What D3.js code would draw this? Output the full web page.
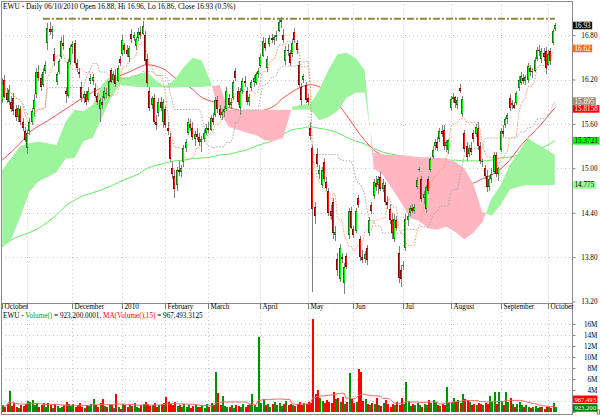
<!DOCTYPE html>
<html><head><meta charset="utf-8">
<script src="https://cdn.jsdelivr.net/npm/d3@7/dist/d3.min.js"></script>
<style>
html,body{margin:0;padding:0;background:#fff;}
svg{display:block;}
text{font-family:"Liberation Serif","Times New Roman",serif;font-size:7.2px;}
</style></head><body>
<svg id="chart" width="600" height="416"></svg>
<script>
// ---------------- DATA ----------------
const opens = [15.92,16.19,16.02,15.90,15.90,15.95,15.80,15.70,15.80,15.62,
15.50,15.28,15.50,15.62,15.80,16.00,16.30,16.22,16.12,16.32,
16.69,16.88,16.84,16.55,16.17,16.30,16.50,16.70,16.05,15.98,
16.44,16.64,16.70,16.42,16.30,16.10,15.95,16.00,15.92,16.18,
16.18,16.08,15.98,15.80,15.90,15.95,16.02,15.98,16.33,16.20,
16.26,16.18,16.48,16.55,16.66,16.60,16.50,16.82,16.76,16.65,
16.76,16.84,16.82,16.80,16.48,16.05,15.85,15.95,15.62,15.75,
15.90,15.62,15.80,15.55,15.42,15.00,14.90,14.78,14.98,14.95,
15.08,15.28,15.48,15.60,15.55,15.40,15.46,15.42,15.35,15.40,
15.48,15.55,15.52,15.68,15.72,15.92,15.80,15.72,15.76,15.80,
15.95,15.86,15.95,16.32,16.05,15.82,16.05,16.18,16.05,15.90,
16.08,16.16,16.15,16.27,16.38,16.52,16.70,16.35,16.68,16.76,
16.74,16.78,16.86,16.98,16.80,16.45,16.60,16.56,16.55,16.84,
16.70,16.40,16.10,16.20,16.12,15.95,15.55,15.27,14.48,15.20,
14.92,14.78,15.08,14.82,14.70,14.42,14.55,14.10,13.78,13.50,
13.80,13.45,13.82,14.10,14.42,14.18,14.15,14.60,14.05,13.80,
13.78,13.92,14.12,14.50,14.62,14.80,14.78,14.88,14.72,14.78,
14.55,14.45,14.30,14.05,14.30,13.85,13.62,13.68,13.92,14.30,
14.40,14.46,14.42,14.75,14.98,14.85,14.60,14.45,14.85,14.98,
15.15,15.30,15.36,15.40,15.50,15.52,15.30,15.25,15.82,15.94,
15.96,15.85,16.08,15.74,15.48,15.30,15.20,15.28,15.48,15.46,
15.55,15.30,15.08,15.00,14.90,14.75,14.85,14.95,15.18,14.92,
15.25,15.50,15.58,15.66,15.95,15.85,15.85,15.88,16.08,16.15,
16.22,16.18,16.20,16.36,16.30,16.32,16.48,16.60,16.48,16.56,
16.58,16.40,16.58,16.70,16.88];
const highs = [16.22,16.26,16.08,16.12,15.98,16.02,15.86,15.85,15.84,15.68,
15.56,15.52,15.68,15.82,16.00,16.35,16.40,16.28,16.35,16.45,
16.97,16.98,16.92,16.62,16.30,16.48,16.78,16.80,16.10,16.48,
16.66,16.72,16.74,16.48,16.36,16.16,16.05,16.05,16.10,16.28,
16.28,16.14,16.02,15.95,15.98,16.10,16.08,16.20,16.36,16.32,
16.34,16.40,16.52,16.80,16.70,16.66,16.65,16.88,16.84,16.78,
16.90,16.92,16.99,16.85,16.55,16.10,15.98,16.00,15.72,15.95,
15.96,15.94,15.84,15.62,15.48,15.08,14.98,15.02,15.10,15.05,
15.32,15.40,15.68,15.66,15.62,15.50,15.55,15.48,15.44,15.52,
15.60,15.62,15.72,15.75,15.96,15.98,15.85,15.80,15.84,16.10,
16.00,15.95,16.20,16.36,16.10,16.08,16.22,16.25,16.10,16.00,
16.20,16.26,16.30,16.35,16.55,16.78,16.76,16.52,16.80,16.82,
16.80,16.86,17.02,17.04,16.88,16.65,16.68,16.60,16.75,16.90,
16.74,16.45,16.15,16.28,16.16,16.00,15.62,15.32,14.55,15.28,
15.04,15.02,15.14,14.88,14.74,14.50,14.60,14.22,13.86,13.98,
13.86,13.72,13.86,14.46,14.48,14.22,14.46,14.64,14.08,13.90,
13.88,13.96,14.34,14.55,14.86,14.90,14.90,14.95,14.85,14.82,
14.62,14.52,14.40,14.38,14.35,13.95,13.70,13.75,14.38,14.40,
14.50,14.52,14.52,14.88,15.02,14.90,14.70,14.78,14.90,15.15,
15.30,15.40,15.42,15.55,15.58,15.58,15.38,15.40,15.98,16.02,
15.98,15.96,16.14,15.98,15.52,15.36,15.32,15.35,15.52,15.60,
15.62,15.35,15.12,15.05,14.98,14.90,15.00,15.22,15.22,15.02,
15.55,15.58,15.70,15.75,16.00,15.92,15.90,16.05,16.25,16.30,
16.28,16.26,16.42,16.40,16.36,16.50,16.64,16.66,16.62,16.62,
16.64,16.60,16.62,16.88,16.96];
const lows = [15.88,15.95,15.88,15.85,15.76,15.72,15.64,15.62,15.58,15.50,
15.35,15.20,15.45,15.58,15.70,15.95,16.18,16.05,16.10,16.28,
16.60,16.80,16.75,16.38,16.12,16.28,16.48,16.60,15.88,15.95,
16.40,16.55,16.40,16.30,16.22,15.90,15.88,15.85,15.90,16.14,
16.12,15.95,15.85,15.62,15.80,15.92,15.95,15.96,16.15,16.15,
16.10,16.16,16.38,16.52,16.55,16.50,16.44,16.70,16.72,16.60,
16.72,16.75,16.80,16.40,16.10,15.78,15.80,15.60,15.52,15.70,
15.78,15.55,15.55,15.45,15.08,14.85,14.60,14.70,14.90,14.88,
15.02,15.22,15.45,15.50,15.38,15.30,15.38,15.30,15.22,15.36,
15.45,15.48,15.50,15.58,15.70,15.75,15.68,15.65,15.70,15.78,
15.82,15.80,15.92,16.18,15.86,15.72,16.00,16.10,15.85,15.84,
16.04,16.10,16.12,16.22,16.35,16.50,16.58,16.30,16.64,16.70,
16.66,16.72,16.84,16.90,16.70,16.40,16.52,16.38,16.50,16.70,
16.55,16.10,15.85,16.15,15.88,15.85,15.38,13.33,14.25,15.02,
14.86,14.74,14.82,14.70,14.35,14.30,14.05,14.02,13.55,13.46,
13.72,13.30,13.64,14.05,14.18,14.06,14.12,14.46,13.75,13.72,
13.72,13.70,14.08,14.38,14.58,14.70,14.65,14.70,14.68,14.50,
14.45,14.25,14.05,14.00,14.15,13.45,13.40,13.62,13.88,14.22,
14.36,14.40,14.38,14.72,14.95,14.55,14.52,14.40,14.65,14.95,
15.12,15.25,15.24,15.36,15.42,15.25,15.22,15.20,15.78,15.88,
15.82,15.80,16.02,15.70,15.22,15.10,15.15,15.18,15.36,15.42,
15.25,15.06,15.02,14.85,14.68,14.70,14.80,14.92,14.88,14.83,
15.22,15.42,15.55,15.60,15.78,15.80,15.80,15.86,16.05,16.12,
16.14,16.12,16.15,16.25,16.22,16.30,16.45,16.52,16.42,16.45,
16.28,16.38,16.40,16.66,16.86];
const closes = [16.15,15.96,15.92,16.06,15.80,15.78,15.70,15.82,15.62,15.55,
15.38,15.48,15.62,15.78,15.92,16.30,16.22,16.10,16.30,16.40,
16.90,16.84,16.88,16.45,16.27,16.45,16.72,16.65,16.00,16.44,
16.62,16.68,16.42,16.35,16.27,15.95,16.00,15.90,16.05,16.22,
16.24,15.98,15.90,15.92,15.85,16.04,16.00,16.18,16.17,16.28,
16.14,16.36,16.42,16.74,16.60,16.55,16.62,16.75,16.80,16.75,
16.84,16.80,16.92,16.45,16.15,15.82,15.95,15.63,15.58,15.90,
15.82,15.90,15.58,15.50,15.12,14.92,14.72,14.98,14.95,15.00,
15.28,15.36,15.62,15.55,15.42,15.46,15.42,15.35,15.40,15.48,
15.55,15.52,15.68,15.62,15.92,15.80,15.72,15.76,15.80,16.05,
15.86,15.90,16.16,16.22,15.90,16.04,16.18,16.15,15.90,15.96,
16.16,16.22,16.27,16.32,16.50,16.72,16.62,16.48,16.76,16.74,
16.78,16.80,16.98,17.00,16.74,16.60,16.58,16.42,16.70,16.74,
16.60,16.12,15.92,16.25,15.92,15.90,15.43,14.45,14.35,15.06,
14.98,14.98,14.86,14.74,14.40,14.36,14.12,14.14,13.62,13.92,
13.78,13.66,13.67,14.42,14.20,14.10,14.42,14.50,13.80,13.76,
13.84,13.76,14.30,14.42,14.82,14.75,14.85,14.72,14.80,14.55,
14.50,14.30,14.12,14.32,14.20,13.52,13.50,13.70,14.32,14.35,
14.46,14.42,14.48,14.84,14.99,14.58,14.65,14.75,14.70,15.12,
15.25,15.36,15.28,15.50,15.46,15.30,15.35,15.38,15.94,15.96,
15.88,15.92,16.04,15.94,15.26,15.15,15.28,15.22,15.40,15.56,
15.30,15.10,15.10,14.90,14.75,14.85,14.92,15.18,14.92,15.00,
15.50,15.46,15.66,15.72,15.82,15.88,15.82,16.02,16.20,16.25,
16.18,16.24,16.38,16.30,16.32,16.46,16.60,16.58,16.58,16.50,
16.35,16.55,16.45,16.85,16.93];
// volume, millions of shares
const volumes = [1.2,0.9,1.5,3.8,1.1,1.6,1.0,0.8,1.3,1.1,
1.4,2.0,1.8,2.1,1.2,1.5,1.0,1.3,1.7,0.9,
1.6,1.2,0.8,1.4,1.1,0.7,1.0,1.3,1.8,1.5,
1.1,1.4,0.9,1.2,1.6,1.0,0.8,1.3,1.1,1.5,
2.3,1.2,1.0,1.6,2.3,1.1,0.9,1.4,1.2,0.8,
3.3,1.0,0.6,1.5,1.2,0.9,1.3,1.1,1.6,1.0,
0.8,1.2,1.4,1.9,1.5,1.1,1.3,1.7,1.0,1.2,
1.4,1.6,2.8,1.8,1.5,1.3,1.9,1.1,1.2,0.9,
1.4,1.0,1.2,0.8,1.1,1.3,0.9,1.0,1.2,0.8,
1.5,1.0,1.7,1.2,7.3,3.5,1.2,2.9,1.1,0.9,
1.0,1.2,0.8,1.3,1.1,0.9,1.4,1.0,1.2,1.5,
3.2,1.2,1.0,13.7,1.6,2.3,1.2,1.4,1.0,1.5,
1.8,1.3,1.6,1.1,1.4,2.0,1.2,1.5,1.3,1.1,
1.4,1.8,1.2,1.6,1.4,1.9,1.7,16.9,3.3,4.0,
2.6,2.0,1.7,2.2,1.9,1.6,3.6,2.4,2.5,1.8,
2.7,1.5,1.9,7.1,2.3,1.6,1.8,7.9,7.3,2.0,
2.3,1.5,1.2,1.7,1.4,2.5,1.3,1.1,1.6,2.2,
1.4,1.0,1.5,1.2,1.8,1.3,2.6,1.4,5.5,2.0,
1.1,1.5,1.2,1.7,1.3,1.0,1.4,1.2,2.2,1.6,
2.2,1.8,1.3,1.1,1.5,1.2,4.5,1.6,1.8,2.5,
1.9,2.2,1.7,3.3,2.4,2.1,1.8,1.3,1.5,1.2,
1.6,1.4,1.3,1.7,1.5,3.0,1.8,3.6,1.4,3.6,
2.0,1.3,3.6,1.8,2.5,1.5,1.0,1.4,1.9,1.3,
0.9,1.2,1.0,0.8,1.0,1.1,0.7,0.9,1.0,0.6,
0.9,1.0,0.7892,1.7,0.9232];
// indicator lines sampled every 4th bar (bars 0,4,...,244)
const sampleStep = 4;
const sma50 = [15.11,15.22,15.34,15.48,15.57,15.64,15.72,15.80,15.88,15.96,16.03,16.09,16.18,16.25,16.30,16.36,16.40,16.38,16.33,16.23,16.15,16.07,15.96,15.91,15.87,15.82,15.79,15.77,15.77,15.79,15.84,15.95,16.03,16.10,16.13,16.10,16.02,15.88,15.72,15.54,15.38,15.25,15.17,15.09,15.03,14.98,14.92,14.88,14.86,14.83,14.80,14.79,14.80,14.86,14.91,14.99,15.11,15.27,15.41,15.53,15.67,15.8158];
const sma200 = [13.94,14.03,14.09,14.13,14.19,14.27,14.37,14.49,14.57,14.63,14.67,14.71,14.76,14.82,14.87,14.92,15.00,15.04,15.07,15.10,15.11,15.13,15.14,15.15,15.18,15.19,15.22,15.25,15.30,15.34,15.38,15.46,15.52,15.54,15.56,15.54,15.52,15.48,15.42,15.37,15.33,15.27,15.22,15.19,15.17,15.15,15.14,15.13,15.13,15.11,15.11,15.10,15.10,15.10,15.11,15.14,15.15,15.18,15.22,15.26,15.30,15.3721];
const spanA = [14.98,15.14,15.30,15.34,15.36,15.34,15.31,15.63,15.79,15.77,15.86,16.13,16.25,16.23,16.23,16.27,16.30,16.18,16.11,16.19,16.36,16.49,16.46,16.17,15.76,15.56,15.52,15.48,15.45,15.38,15.37,15.41,15.83,15.86,15.87,16.06,16.33,16.54,16.56,16.49,16.33,15.00,14.91,14.73,14.54,14.33,14.29,14.19,14.17,14.21,14.14,14.04,14.13,14.27,14.59,14.77,15.04,15.22,15.41,15.33,15.26,15.18];
const spanB = [13.94,14.04,14.34,14.68,14.82,14.88,14.95,15.13,15.14,15.37,15.41,15.68,15.95,16.13,16.11,16.10,16.10,16.10,16.09,16.09,16.10,16.10,16.10,16.11,16.13,15.79,15.79,15.79,15.79,15.79,15.79,15.79,15.79,15.79,15.79,15.65,15.69,15.77,15.95,16.02,16.02,15.21,15.19,15.18,15.18,15.17,15.15,15.15,15.14,15.14,15.09,15.00,14.79,14.41,14.36,14.50,14.71,14.75,14.775,14.775,14.775,14.775];
const resistanceLevel = 17.02, resistanceFrom = 18;
const priceTicks = [13.2,13.8,14.4,15.0,15.6,16.2,16.8];
const volTicks = [0,2,4,6,8,10,12,14,16];
const monthIdx = [0,11,31,53,72,91,114,135,155,177,198,220,241];
const monthLabels = ["October","November","December","2010","February","March","April","May","Jun","Jul","August","September","October"];
const titleText = "EWU - Daily 06/10/2010 Open 16.88, Hi 16.96, Lo 16.86, Close 16.93 (0.5%)";
const legendParts = [["EWU - ","#000"],["Volume()","#00a000"],[" = 923,200.0001, ","#000"],["MA(Volume(),15)","#ff0000"],[" = 967,493.3125","#000"]];

// ---------------- LAYOUT ----------------
const svg = d3.select("#chart");
const N = closes.length;
const L = 1, R = 572, PT = 1, PB = 303, VT = 312, VB = 415;
const x = d3.scaleLinear().domain([0, N - 1]).range([2.13, 554.9]);
const y = d3.scaleLinear().domain([13.2, 16.8]).range([301.5, 35.1]);
const yv = d3.scaleLinear().domain([0, 16]).range([412, 324]);
const px = i => Math.round(x(i));

const defs = svg.append("defs");
defs.append("clipPath").attr("id","clipP").append("rect").attr("x",L).attr("y",PT).attr("width",R-L).attr("height",PB-PT);
defs.append("clipPath").attr("id","clipV").append("rect").attr("x",L).attr("y",VT).attr("width",R-L).attr("height",VB-VT);

// grid
const grid = svg.append("g").attr("stroke","#c8c8c8").attr("stroke-dasharray","1,3").attr("shape-rendering","crispEdges");
priceTicks.slice(1).forEach(t => grid.append("line").attr("x1",L).attr("x2",R).attr("y1",Math.round(y(t))+0.5).attr("y2",Math.round(y(t))+0.5));
volTicks.slice(1).forEach(t => grid.append("line").attr("x1",L).attr("x2",R).attr("y1",Math.round(yv(t))+0.5).attr("y2",Math.round(yv(t))+0.5));
monthIdx.slice(1).forEach(i => {
  grid.append("line").attr("x1",px(i)+0.5).attr("x2",px(i)+0.5).attr("y1",PT).attr("y2",PB);
  grid.append("line").attr("x1",px(i)+0.5).attr("x2",px(i)+0.5).attr("y1",VT).attr("y2",VB);
});

const gp = svg.append("g").attr("clip-path","url(#clipP)");

// moving averages (under cloud)
const sampled = arr => arr.map((v,k)=>({i:k*sampleStep, v}));
const maLine = d3.line().x(d=>x(d.i)).y(d=>y(d.v)).curve(d3.curveMonotoneX);
gp.append("path").attr("d",maLine(sampled(sma200))).attr("fill","none").attr("stroke","#66e866").attr("stroke-width",1);
gp.append("path").attr("d",maLine(sampled(sma50))).attr("fill","none").attr("stroke","#f05050").attr("stroke-width",1);

// cloud
const cloud = spanA.map((a,k)=>({i:k*sampleStep, a, b:spanB[k]}));
const areaAB = d3.area().x(d=>x(d.i)).y0(d=>y(d.a)).y1(d=>y(d.b));
defs.append("clipPath").attr("id","cAbove").append("path").attr("d", d3.area().x(d=>x(d.i)).y0(-50).y1(d=>y(d.b))(cloud));
defs.append("clipPath").attr("id","cBelow").append("path").attr("d", d3.area().x(d=>x(d.i)).y0(d=>y(d.b)).y1(500)(cloud));
gp.append("g").attr("clip-path","url(#cAbove)").append("path").attr("d",areaAB(cloud)).attr("fill","#9cf59c");
gp.append("g").attr("clip-path","url(#cBelow)").append("path").attr("d",areaAB(cloud)).attr("fill","#ffb6c1");

// tenkan / kijun
function midpoint(period){
  return closes.map((_,i)=>{const s=Math.max(0,i-period+1);
    return (d3.max(highs.slice(s,i+1))+d3.min(lows.slice(s,i+1)))/2;});
}
const tenkan = midpoint(9), kijun = midpoint(26);
const idxLine = d3.line().x((d,i)=>x(i)).y(d=>y(d));
gp.append("path").attr("d",idxLine(kijun)).attr("fill","none").attr("stroke","#a8a8a8").attr("stroke-dasharray","1.5,1.5");
gp.append("path").attr("d",idxLine(tenkan)).attr("fill","none").attr("stroke","#ff9a60").attr("stroke-dasharray","1.5,1.5");

// resistance line
gp.append("line").attr("x1",x(resistanceFrom)).attr("x2",x(N-1)).attr("y1",y(resistanceLevel)).attr("y2",y(resistanceLevel))
  .attr("stroke","#8c8c3c").attr("stroke-width",2).attr("stroke-dasharray","7,2,2,2");

// candles: dark outline with bright centre
const gc = gp.append("g").attr("shape-rendering","crispEdges");
closes.forEach((c,i)=>{
  const cx = px(i), up = c >= opens[i];
  gc.append("line").attr("x1",cx+0.5).attr("x2",cx+0.5).attr("y1",y(highs[i])).attr("y2",y(lows[i])).attr("stroke","#808080");
  const top = Math.round(y(Math.max(opens[i],c))), bot = Math.round(y(Math.min(opens[i],c)));
  const h = Math.max(1, bot-top);
  gc.append("rect").attr("x",cx-1).attr("width",2).attr("y",top).attr("height",h).attr("fill", up ? "#008000" : "#8b0000");
  if (h > 2) gc.append("rect").attr("x",cx).attr("width",1).attr("y",top+1).attr("height",h-2).attr("fill", up ? "#00ff00" : "#ff1a1a");
});

// volume
const gv = svg.append("g").attr("clip-path","url(#clipV)").attr("shape-rendering","crispEdges");
volumes.forEach((v,i)=>{
  gv.append("rect").attr("x",px(i)-0.5).attr("width",2).attr("y",yv(v)).attr("height",yv(0)-yv(v))
    .attr("fill", closes[i]>=opens[i] ? "#009000" : "#ff0000");
});
const volMA = volumes.map((_,i)=>d3.mean(volumes.slice(Math.max(0,i-14),i+1)));
svg.append("g").attr("clip-path","url(#clipV)").append("path")
  .attr("d", d3.line().x((d,i)=>x(i)).y(d=>yv(d))(volMA)).attr("fill","none").attr("stroke","#ff6060").attr("stroke-width",1);

// borders
const bd = svg.append("g").attr("stroke","#8a8a8a").attr("shape-rendering","crispEdges");
bd.append("line").attr("x1",L).attr("x2",R).attr("y1",PT+0.5).attr("y2",PT+0.5);
bd.append("line").attr("x1",L).attr("x2",R).attr("y1",PB+0.5).attr("y2",PB+0.5);
bd.append("line").attr("x1",L).attr("x2",R).attr("y1",VB-0.5).attr("y2",VB-0.5);
bd.append("line").attr("x1",L+0.5).attr("x2",L+0.5).attr("y1",PT).attr("y2",VB);
bd.append("line").attr("x1",R+0.5).attr("x2",R+0.5).attr("y1",PT).attr("y2",VB);

// axes
const axP = svg.append("g").attr("transform",`translate(${R+0.5},0)`)
  .call(d3.axisRight(y).tickValues(priceTicks).tickFormat(d3.format(".2f")).tickSize(3).tickSizeOuter(0));
axP.select(".domain").remove();
axP.attr("font-family",null).attr("font-size",null);
axP.selectAll("line").attr("stroke","#888");
axP.selectAll("text").attr("x",25).attr("text-anchor","end").attr("fill","#000");

// the 2M label sits under the value boxes in the original, so it is not printed
const axV = svg.append("g").attr("transform",`translate(${R+0.5},0)`)
  .call(d3.axisRight(yv).tickValues(volTicks).tickFormat(d=>d===0?"0":(d===2?"":d+"M")).tickSize(3).tickSizeOuter(0));
axV.select(".domain").remove();
axV.attr("font-family",null).attr("font-size",null);
axV.selectAll("line").attr("stroke","#888");
axV.selectAll("text").attr("x",25).attr("text-anchor","end").attr("fill","#000");
axV.selectAll("text").filter(d=>d===0).attr("x",27.5);

const axX = svg.append("g").attr("transform",`translate(0.5,${PB})`)
  .call(d3.axisBottom(x).tickValues(monthIdx).tickFormat((d,k)=>monthLabels[k]).tickSize(6).tickSizeOuter(0));
axX.select(".domain").remove();
axX.attr("font-family",null).attr("font-size",null);
axX.selectAll(".tick").attr("transform",d=>`translate(${px(d)},0)`);
axX.selectAll("line").attr("stroke","#777");
axX.selectAll("text").attr("text-anchor","start").attr("x",2).attr("y",0.5).attr("dy","0.75em").attr("fill","#000");
let lastEnd = -1;
axX.selectAll("text").each(function(d){
  const sx = px(d)+2, w = this.getComputedTextLength();
  if (sx < lastEnd + 2) d3.select(this).remove(); else lastEnd = sx + w;
});

// titles
svg.append("text").attr("x",3).attr("y",8.5).style("font-size","7.4px").text(titleText);
const leg = svg.append("text").attr("x",3).attr("y",318);
legendParts.forEach(([t,c])=>leg.append("tspan").attr("fill",c).text(t));

// value boxes on the right axis
function valueBox(yc, label, bg, fg, fs){
  const g = svg.append("g");
  const t = g.append("text").attr("x",R+2.5).attr("y",yc+2.5).attr("fill",fg).style("font-size",fs+"px").text(label);
  const w = t.node().getComputedTextLength();
  g.insert("rect","text").attr("x",R+1).attr("y",yc-3.8).attr("width",w+3).attr("height",7.6).attr("fill",bg);
}
const trim = v => String(+v.toFixed(4));
const boxes = [
  [closes[N-1], "#111111", "#ffffff"],
  [tenkan[N-1], "#ff6a1a", "#ffffff"],
  [kijun[N-1], "#a08c7c", "#ffffff"],
  [sma50[sma50.length-1], "#ff0000", "#ffffff"],
  [sma200[sma200.length-1], "#00ff00", "#000000"],
  [spanB[spanB.length-1], "#99ff99", "#000000"]
].map(([v,bg,fg])=>({v, yc:y(v), bg, fg}));
boxes.sort((a,b)=>a.yc-b.yc);
for (let k=1;k<boxes.length;k++){
  const gap = boxes[k].yc - boxes[k-1].yc;
  if (gap < 7.8){ const d=(7.8-gap)/2; boxes[k-1].yc -= d; boxes[k].yc += d; }
}
boxes.forEach(b=>valueBox(b.yc, trim(b.v), b.bg, b.fg, 7.2));
const fmt0 = d3.format(",.0f");
const vY = yv(volumes[N-1]) + 1, maY = vY - 8.6;
valueBox(maY, fmt0(volMA[N-1]*1e6), "#ff0000", "#ffffff", 6.6);
valueBox(vY, fmt0(volumes[N-1]*1e6), "#008000", "#ffffff", 6.6);
</script></body></html>
